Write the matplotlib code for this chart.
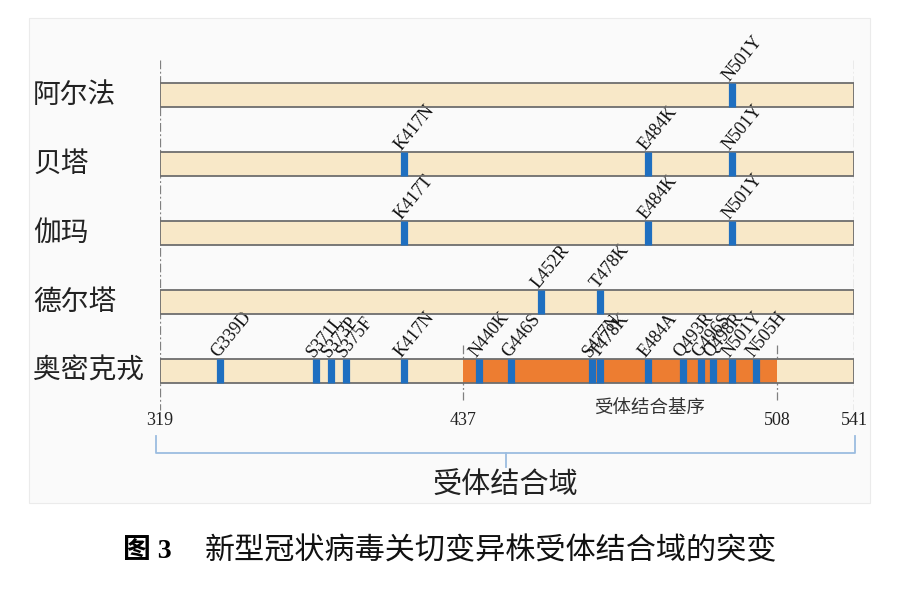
import numpy as np
import matplotlib
matplotlib.use("Agg")
import matplotlib.pyplot as plt
from matplotlib.patches import Rectangle
from matplotlib.transforms import blended_transform_factory

plt.rcParams['font.family'] = ['Noto Sans CJK SC', 'DejaVu Sans']

# Data
variants = ["阿尔法", "贝塔", "伽玛", "德尔塔", "奥密克戎"]
alpha_mut = ["N501Y"]
beta_mut = ["K417N", "E484K", "N501Y"]
gamma_mut = ["K417T", "E484K", "N501Y"]
delta_mut = ["L452R", "T478K"]
omicron_mut = ["G339D", "S371L", "S373P", "S375F", "K417N", "N440K", "G446S",
               "S477N", "T478K", "E484A", "Q493R", "G496S", "Q498R", "N501Y", "N505H"]
mutations = [alpha_mut, beta_mut, gamma_mut, delta_mut, omicron_mut]
rbd_start, rbd_end = 319, 541
rbm_start, rbm_end = 437, 508
tick_values = [319, 437, 508, 541]
rbd_label = "受体结合域"
rbm_label = "受体结合基序"
caption_num = "图 3"
caption_text = "新型冠状病毒关切变异株受体结合域的突变"

# schematic (not to scale) residue axis of the original figure
knot_res = [319, 371, 375, 417, 437, 446, 452, 477, 484, 493, 505, 508, 541]
knot_pos = [160, 316, 346, 404, 463, 511, 541, 592, 648, 683, 756, 777, 854]


def fwd(x):
    return np.interp(x, knot_res, knot_pos)


def inv(x):
    return np.interp(x, knot_pos, knot_res)


beige = "#F8E8C8"
orange = "#ED7D31"
blue = "#1F6FC0"
edge = "#6E6E6E"
serif = "Liberation Serif"

fig = plt.figure(figsize=(8.98, 5.89), dpi=100)
fig.patch.set_facecolor("white")
fig.patches.append(Rectangle((29 / 898, 1 - 503 / 589), 841 / 898, 485 / 589,
                             transform=fig.transFigure, facecolor="#FAFAFA",
                             edgecolor="#EBEBEB", linewidth=0.8, zorder=-5))

ax = fig.add_axes([160 / 898, 0, 694 / 898, 1])
ax.set_xscale("function", functions=(fwd, inv))
ax.set_xlim(rbd_start, rbd_end)
ax.set_ylim(7.159, -1.377)
ax.axis("off")
ax.set_zorder(2)

h = 0.348
rows = np.arange(len(variants))
trans = blended_transform_factory(ax.transAxes, ax.transData)

# dash-dot guide lines
dash = (0, (7, 2, 1.5, 2))
ax.vlines([rbd_start, rbd_end], -0.507, 4.565, color="#808080", lw=0.9,
          linestyle=dash, zorder=1)
ax.vlines([rbm_start, rbm_end], 3.62, 4.42, color="#808080", lw=0.9,
          linestyle=dash, zorder=1)

# bars
ax.barh(rows, rbd_end - rbd_start, left=rbd_start, height=h, color=beige,
        edgecolor="none", zorder=2)
ax.barh(rows[-1], rbm_end - rbm_start, left=rbm_start, height=h, color=orange,
        edgecolor="none", zorder=3)
ax.barh(rows, rbd_end - rbd_start, left=rbd_start, height=h, fill=False,
        edgecolor=edge, linewidth=1.3, zorder=4)

for i, (name, muts) in enumerate(zip(variants, mutations)):
    ax.text(-0.183, i, name, transform=trans, ha="left", va="center",
            fontsize=20, color="#222222")
    pos = [int(m[1:-1]) for m in muts]
    lc = ax.vlines(pos, i - h / 2, i + h / 2, color=blue, lw=5.2, zorder=5)
    lc.set_capstyle("butt")
    for m, p in zip(muts, pos):
        ax.annotate(m, (p, i - h / 2), xytext=(-1.5, 1.0), textcoords="offset points",
                    rotation=51, rotation_mode="anchor", ha="left", va="baseline",
                    fontsize=13, family=serif, color="#111111")

# tick labels
for t in tick_values:
    ax.text(t, 4.72, str(t), ha="center", va="center", fontsize=13,
            family=serif, color="#222222")
ax.text(0.706, 4.55, rbm_label, transform=trans, ha="center", va="center",
        fontsize=13.3, color="#333333")

# bracket
bc = "#9BBCE0"
ax.plot([-0.006, -0.006, 1.002, 1.002], [4.94, 5.19, 5.19, 4.94],
        transform=trans, color=bc, lw=1.3, clip_on=False)
ax.plot([0.498, 0.498], [5.19, 5.39], transform=trans, color=bc, lw=1.3,
        clip_on=False)
ax.text(0.498, 5.66, rbd_label, transform=trans, ha="center", va="center",
        fontsize=21, color="#222222")

# caption
fig.text(123 / 898, 1 - 551 / 589, caption_num, ha="left", va="center",
         fontsize=20, fontweight="bold", family=[serif, "Noto Sans CJK SC"])
fig.text(205 / 898, 1 - 551 / 589, caption_text, ha="left", va="center",
         fontsize=21.7, color="#111111")

fig.savefig("out.png", dpi=100)
